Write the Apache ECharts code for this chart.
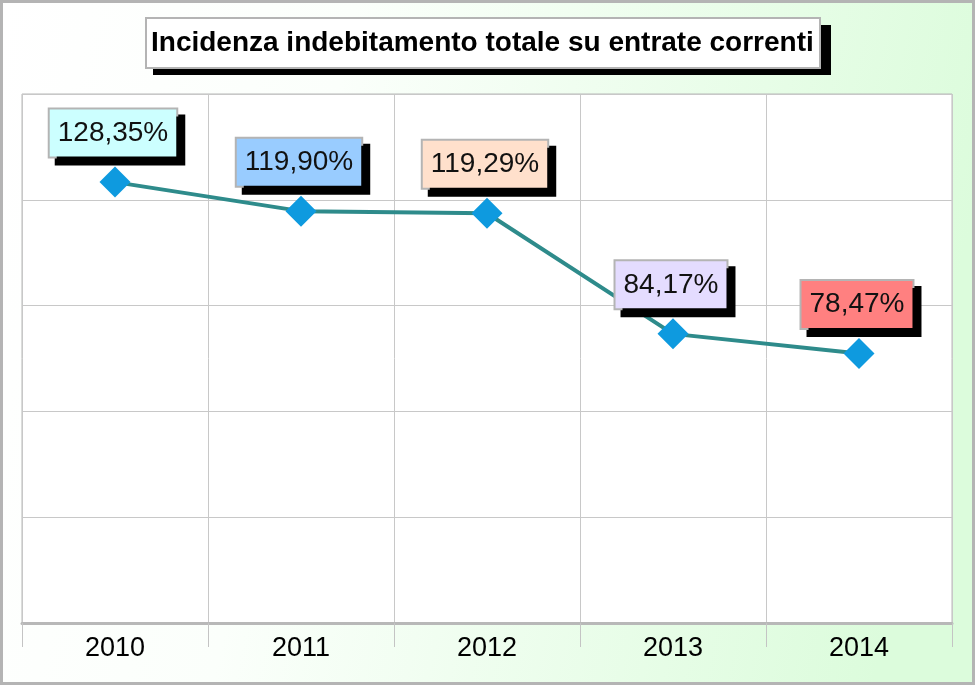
<!DOCTYPE html>
<html>
<head>
<meta charset="utf-8">
<script src="https://cdn.jsdelivr.net/npm/echarts@6/dist/echarts.min.js"></script>
<style>
html,body{margin:0;padding:0;background:#fff;}
#c{width:975px;height:685px;}
</style>
</head>
<body>
<div id="c"></div>
<script>
const titleText = 'Incidenza indebitamento totale su entrate correnti';
const categories = ['2010', '2011', '2012', '2013', '2014'];
const values = [128.35, 119.90, 119.29, 84.17, 78.47];
const labelFills = ['#CCFFFF', '#99CCFF', '#FFE0CC', '#E4DCFF', '#FF8080'];

const fmt = v => v.toFixed(2).replace('.', ',') + '%';

const chart = echarts.init(document.getElementById('c'), null, {renderer: 'canvas'});
const seriesData = values.map((v, i) => ({
  value: v,
  label: {backgroundColor: labelFills[i]}
}));

chart.setOption({
  animation: false,
  backgroundColor: {
    type: 'linear', x: 0, y: 0, x2: 1, y2: 0.3,
    colorStops: [
      {offset: 0, color: '#ffffff'},
      {offset: 0.35, color: '#fbfffb'},
      {offset: 1, color: '#dcfcdc'}
    ]
  },
  title: {
    text: titleText,
    left: 146,
    top: 18,
    padding: [10, 6, 10, 5],
    backgroundColor: '#ffffff',
    borderColor: '#b4b4b4',
    borderWidth: 2,
    textStyle: {
      fontFamily: 'Liberation Sans, Arial, sans-serif',
      fontWeight: 'bold',
      fontSize: 28,
      lineHeight: 30,
      color: '#000'
    }
  },
  grid: {
    left: 22, right: 23, top: 94, bottom: 62,
    show: true,
    backgroundColor: '#ffffff',
    borderColor: '#b8b8b8',
    borderWidth: 1
  },
  xAxis: {
    type: 'category',
    data: categories,
    boundaryGap: true,
    axisLine: {show: true, lineStyle: {color: '#b8b8b8', width: 3}},
    axisTick: {show: true, alignWithLabel: false, length: 24, lineStyle: {color: '#c4c4c4', width: 1}},
    axisLabel: {
      fontFamily: 'Liberation Sans, Arial, sans-serif',
      fontSize: 27,
      color: '#000',
      margin: 12
    },
    splitLine: {show: true, lineStyle: {color: '#c8c8c8', width: 1}}
  },
  yAxis: {
    type: 'value',
    min: 0,
    max: 154,
    interval: 30.8,
    axisLine: {show: false},
    axisTick: {show: false},
    axisLabel: {show: false},
    splitLine: {show: true, lineStyle: {color: '#c8c8c8', width: 1}}
  },
  series: [{
    type: 'line',
    data: seriesData,
    symbol: 'diamond',
    symbolSize: 31,
    lineStyle: {color: '#2E8B8B', width: 4},
    itemStyle: {color: '#0E9ADF'},
    label: {
      show: true,
      position: 'top',
      distance: 10,
      offset: [-2, 0],
      formatter: p => fmt(p.value),
      fontFamily: 'Liberation Sans, Arial, sans-serif',
      fontSize: 28,
      lineHeight: 29,
      color: '#111',
      padding: [9, 8, 9, 8],
      borderColor: '#b4b4b4',
      borderWidth: 2,
      shadowColor: '#000',
      shadowBlur: 0,
      shadowOffsetX: 7,
      shadowOffsetY: 7
    },
    z: 3
  }],
  graphic: [{
    type: 'rect',
    shape: {x: 153, y: 25, width: 678, height: 50},
    style: {fill: '#000'},
    silent: true,
    z: 1
  }, {
    type: 'rect',
    shape: {x: 1.5, y: 1.5, width: 972, height: 682},
    style: {fill: 'none', stroke: '#b4b4b4', lineWidth: 3},
    silent: true,
    z: 100
  }]
});
</script>
</body>
</html>
